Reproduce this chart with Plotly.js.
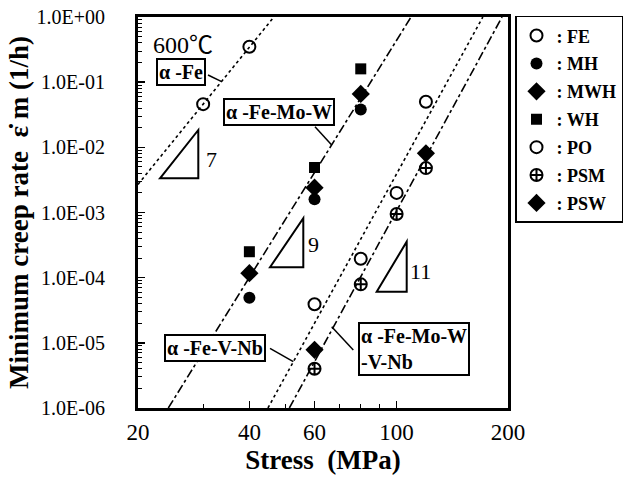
<!DOCTYPE html>
<html>
<head>
<meta charset="utf-8">
<script src="https://cdn.plot.ly/plotly-3.0.1.min.js"></script>
<style>html,body{margin:0;padding:0;background:#fff;}#chart{width:624px;height:484px;}</style>
</head>
<body>
<div id="chart"></div>
<script>
// ---- data ----
var feStress = [30, 40];
var feRate = [0.046, 0.35];

var mhStress = [40, 60, 80];
var mhRate = [4.9e-5, 1.6e-3, 0.038];

var mwhStress = [40, 60, 80];
var mwhRate = [1.17e-4, 2.4e-3, 0.066];

var whStress = [40, 60, 80];
var whRate = [2.5e-4, 4.9e-3, 0.16];

var poStress = [60, 80, 100, 120];
var poRate = [3.9e-5, 1.95e-4, 2.0e-3, 0.050];

var psmStress = [60, 80, 100, 120];
var psmRate = [4.0e-6, 7.9e-5, 9.5e-4, 4.8e-3];

var pswStress = [60, 120];
var pswRate = [7.8e-6, 8.1e-3];

// fitted lines (end points)
var lineFeStress = [20, 46.6];
var lineFeRate = [0.0027, 1];
var lineMoWStress = [24.15, 109.4];
var lineMoWRate = [1e-6, 1];
var lineVNbStress = [44.9, 171];
var lineVNbRate = [1e-6, 1];
var lineMoWVNbStress = [51.3, 192.7];
var lineMoWVNbRate = [1e-6, 1];

var yTickVals = [1, 0.1, 0.01, 0.001, 0.0001, 0.00001, 0.000001];
var yTickText = ["1.0E+00", "1.0E-01", "1.0E-02", "1.0E-03", "1.0E-04", "1.0E-05", "1.0E-06"];
var xTickVals = [20, 40, 60, 100, 200];
var xTickText = ["20", "40", "60", "100", "200"];

// ---- layout helpers (pixel -> paper) ----
var L = 138, R = 508, T = 17, B = 408;
function px(x) { return (x - L) / (R - L); }
function py(y) { return (B - y) / (B - T); }

var SERIF = "Liberation Serif, Times New Roman, serif";

function lineTrace(x, y, dash) {
  return {x: x, y: y, mode: "lines", type: "scatter", showlegend: false, hoverinfo: "skip",
    line: {color: "black", width: 1.6, dash: dash}};
}
function markerTrace(name, x, y, symbol, size, lw) {
  return {x: x, y: y, mode: "markers", type: "scatter", name: name, legendgroup: name,
    marker: {symbol: symbol, size: size, color: "black", line: {color: "black", width: lw}}};
}

var traces = [
  lineTrace(lineFeStress, lineFeRate, "dot"),
  lineTrace(lineMoWStress, lineMoWRate, "dashdot"),
  lineTrace(lineVNbStress, lineVNbRate, "dot"),
  lineTrace(lineMoWVNbStress, lineMoWVNbRate, "dashdot"),
  markerTrace(": FE", feStress, feRate, "circle-open", 12, 2),
  markerTrace(": MH", mhStress, mhRate, "circle", 12, 0),
  markerTrace(": MWH", mwhStress, mwhRate, "diamond", 14, 0),
  markerTrace(": WH", whStress, whRate, "square", 11, 0),
  markerTrace(": PO", poStress, poRate, "circle-open", 12, 2),
  markerTrace(": PSM", psmStress, psmRate, "circle-cross-open", 12, 2),
  markerTrace(": PSW", pswStress, pswRate, "diamond", 14, 0)
];

function tri(x1, y1, x2, y2) {
  return {type: "path", xref: "paper", yref: "paper",
    path: "M " + px(x1) + " " + py(y2) + " L " + px(x2) + " " + py(y1) + " L " + px(x2) + " " + py(y2) + " Z",
    line: {color: "black", width: 2}};
}
function seg(x1, y1, x2, y2) {
  return {type: "line", xref: "paper", yref: "paper", x0: px(x1), y0: py(y1), x1: px(x2), y1: py(y2),
    line: {color: "black", width: 1.5}};
}
function boxLabel(text, x, y, align) {
  return {xref: "paper", yref: "paper", x: px(x), y: py(y), xanchor: "center", yanchor: "middle",
    text: text, showarrow: false,
    font: {family: SERIF, size: 20, color: "black", weight: "bold"}, align: align || "center",
    bordercolor: "black", borderwidth: 2, borderpad: 1, bgcolor: "white"};
}
function plainLabel(text, x, y, size) {
  return {xref: "paper", yref: "paper", x: px(x), y: py(y), xanchor: "center", yanchor: "middle",
    text: text, showarrow: false,
    font: {family: SERIF, size: size, color: "black"}};
}

var layout = {
  width: 624, height: 484,
  margin: {l: L, r: 624 - R, t: T, b: 484 - B, pad: 0, autoexpand: false},
  paper_bgcolor: "white", plot_bgcolor: "white",
  font: {family: SERIF, color: "black"},
  xaxis: {
    type: "log", range: [Math.log10(20), Math.log10(200)],
    tickmode: "array", tickvals: xTickVals, ticktext: xTickText,
    ticks: "inside", ticklen: 7, tickwidth: 1.5, tickcolor: "black",
    minor: {dtick: "D1", ticks: "inside", ticklen: 4, tickcolor: "black", tickwidth: 1},
    showgrid: false, zeroline: false,
    showline: true, linecolor: "black", linewidth: 3, mirror: true,
    tickfont: {family: SERIF, size: 23, color: "black"},
    ticklabelstandoff: 1,
    title: {text: "Stress  (MPa)", font: {family: SERIF, size: 27, color: "black", weight: "bold"}, standoff: 7}
  },
  yaxis: {
    type: "log", range: [-6, 0],
    tickmode: "array", tickvals: yTickVals, ticktext: yTickText,
    ticks: "inside", ticklen: 7, tickwidth: 1.5, tickcolor: "black",
    minor: {dtick: "D1", ticks: "inside", ticklen: 4, tickcolor: "black", tickwidth: 1},
    showgrid: false, zeroline: false,
    showline: true, linecolor: "black", linewidth: 3, mirror: true,
    tickfont: {family: SERIF, size: 20, color: "black"},
    ticklabelstandoff: 26,
    title: {text: "Minimum creep rate  \u03B5\u0307 m (1/h)", font: {family: SERIF, size: 27, color: "black", weight: "bold"}, standoff: 1}
  },
  legend: {
    x: (515 - L) / (R - L), xanchor: "left", y: 1.003, yanchor: "top",
    bordercolor: "black", borderwidth: 1.5, bgcolor: "white",
    font: {family: SERIF, size: 18, color: "black", weight: "bold"},
    itemwidth: 30, tracegroupgap: 1.5
  },
  shapes: [
    tri(160, 130, 198.3, 178.3),
    tri(270, 218.3, 303.3, 267.3),
    tri(376.7, 241.7, 406.7, 291.7),
    seg(208, 75, 221.7, 81.7),
    seg(315, 126.7, 331.7, 145),
    seg(270, 348.3, 293.3, 361.7),
    seg(353.3, 350, 331.7, 326.7)
  ],
  annotations: [
    boxLabel("\u03B1 -Fe", 180.5, 72.5),
    boxLabel("\u03B1 -Fe-Mo-W", 278.7, 111.7),
    boxLabel("\u03B1 -Fe-V-Nb", 214.7, 348),
    boxLabel("\u03B1 -Fe-Mo-W<br>-V-Nb", 413.7, 348.5, "left"),
    plainLabel("7", 211, 159, 22),
    plainLabel("9", 313, 244, 22),
    plainLabel("11", 420, 271.7, 22),
    {xref: "paper", yref: "paper", x: px(183), y: py(42), xanchor: "center", yanchor: "middle",
      text: "600<span style=\"font-family:'Noto Sans CJK JP'\">\u2103</span>", showarrow: false,
      font: {family: SERIF, size: 24, color: "black"}}
  ]
};

Plotly.newPlot("chart", traces, layout, {displayModeBar: false, staticPlot: true});
</script>
</body>
</html>
